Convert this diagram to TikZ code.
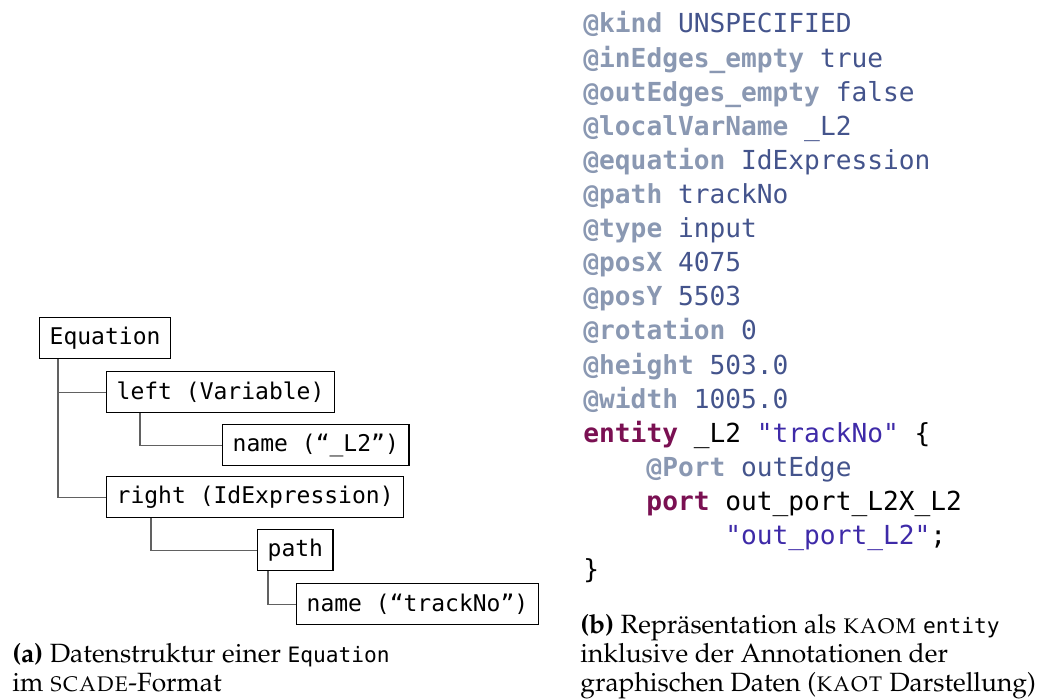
\documentclass[tikz,border=0pt]{standalone}
\usepackage[T1,TU]{fontenc}
\usepackage{fontspec}
\usetikzlibrary{calc}
\newfontfamily\codefont{DejaVu Sans Mono}
\newcommand*{\capfont}{\fontencoding{T1}\fontfamily{ppl}\selectfont}
\newcommand*{\codex }{583}
\newcommand*{\codey }{33}
\newcommand*{\lnsp  }{34.1}
\newcommand*{\chw   }{15.77}
\definecolor{annokey}{RGB}{138,152,178}
\definecolor{annoval}{RGB}{68,84,140}
\definecolor{kwcol}{RGB}{122,16,82}
\definecolor{strcol}{RGB}{62,42,168}
\newcommand*{\ak}[1]{\textcolor{annokey}{\bfseries #1}}
\newcommand*{\av}[1]{\textcolor{annoval}{#1}}
\newcommand*{\kw}[1]{\textcolor{kwcol}{\bfseries #1}}
\newcommand*{\st}[1]{\textcolor{strcol}{#1}}
\newcommand*{\tinytt}[1]{{\codefont\fontsize{10.6}{12}\selectfont #1}}

\begin{document}
\begin{tikzpicture}[x=0.5pt, y=-0.5pt,
    box/.style={draw, line width=0.7pt, anchor=north west, inner xsep=5pt, inner ysep=0pt,
        minimum height=20.5pt, font=\codefont\fontsize{11.5}{14}\selectfont},
    conn/.style={draw=black!62, line width=0.55pt},
    codeln/.style={anchor=base west, inner sep=0pt, font=\codefont\fontsize{13.1}{16}\selectfont},
    capln/.style={anchor=base west, inner sep=0pt, font=\capfont\fontsize{13.2}{15}\selectfont}]
    \useasboundingbox (0,0) rectangle (1037,700);
    % tree of the equation
    \node [box] (eqn)   at ( 39,317) {Equation};
    \node [box] (lft)   at (106,371) {left (Variable)};
    \node [box] (nmvar) at (222,424) {name (“\_L2”)};
    \node [box] (rgt)   at (106,476) {right (IdExpression)};
    \node [box] (pth)   at (257,529) {path};
    \node [box] (nmtrk) at (296,583) {name (“trackNo”)};
    \draw [conn] ($(eqn.south west)+(19,0)$) |- (lft.west);
    \draw [conn] ($(eqn.south west)+(19,0)$) |- (rgt.west);
    \draw [conn] ($(lft.south west)+(34,0)$) |- (nmvar.west);
    \draw [conn] ($(rgt.south west)+(45,0)$) |- (pth.west);
    \draw [conn] ($(pth.south west)+(11,0)$) |- (nmtrk.west);
    % KAOT text
    \node [codeln] (l1)  at (\codex, {\codey+ 0*\lnsp}) {\ak{@kind} \av{UNSPECIFIED}};
    \node [codeln] (l2)  at (\codex, {\codey+ 1*\lnsp}) {\ak{@inEdges\_empty} \av{true}};
    \node [codeln] (l3)  at (\codex, {\codey+ 2*\lnsp}) {\ak{@outEdges\_empty} \av{false}};
    \node [codeln] (l4)  at (\codex, {\codey+ 3*\lnsp}) {\ak{@localVarName} \av{\_L2}};
    \node [codeln] (l5)  at (\codex, {\codey+ 4*\lnsp}) {\ak{@equation} \av{IdExpression}};
    \node [codeln] (l6)  at (\codex, {\codey+ 5*\lnsp}) {\ak{@path} \av{trackNo}};
    \node [codeln] (l7)  at (\codex, {\codey+ 6*\lnsp}) {\ak{@type} \av{input}};
    \node [codeln] (l8)  at (\codex, {\codey+ 7*\lnsp}) {\ak{@posX} \av{4075}};
    \node [codeln] (l9)  at (\codex, {\codey+ 8*\lnsp}) {\ak{@posY} \av{5503}};
    \node [codeln] (l10) at (\codex, {\codey+ 9*\lnsp}) {\ak{@rotation} \av{0}};
    \node [codeln] (l11) at (\codex, {\codey+10*\lnsp}) {\ak{@height} \av{503.0}};
    \node [codeln] (l12) at (\codex, {\codey+11*\lnsp}) {\ak{@width} \av{1005.0}};
    \node [codeln] (l13) at (\codex, {\codey+12*\lnsp}) {\kw{entity} \_L2 \st{"trackNo"} \{};
    \node [codeln] (l14) at ({\codex+4*\chw}, {\codey+13*\lnsp}) {\ak{@Port} \av{outEdge}};
    \node [codeln] (l15) at ({\codex+4*\chw}, {\codey+14*\lnsp}) {\kw{port} out\_port\_L2X\_L2};
    \node [codeln] (l16) at ({\codex+9*\chw}, {\codey+15*\lnsp}) {\st{"out\_port\_L2"};};
    \node [codeln] (l17) at (\codex, {\codey+16*\lnsp}) {\}};
    % captions
    \node [capln] (capa1) at ( 12,662) {\textbf{(a)} Datenstruktur einer \tinytt{Equation}};
    \node [capln] (capa2) at ( 12,691) {im \textsc{scade}-Format};
    \node [capln] (capb1) at (580,633) {\textbf{(b)} Repr\"asentation als \textsc{kaom} \tinytt{entity}};
    \node [capln] (capb2) at (580,662) {inklusive der Annotationen der};
    \node [capln] (capb3) at (580,691) {graphischen Daten (\textsc{kaot} Darstellung)};
\end{tikzpicture}
\end{document}
